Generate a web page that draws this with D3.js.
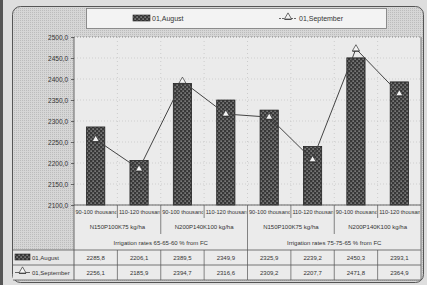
<!DOCTYPE html>
<html>
<head>
<meta charset="utf-8">
<script src="https://cdn.jsdelivr.net/npm/d3@7"></script>
<style>
  body { margin: 0; background: #dedede; }
  svg { display: block; font-family: "Liberation Sans", Arial, sans-serif; }
</style>
</head>
<body>
<div id="chart"></div>
<script>
// chart data
const categories = ["90-100 thousand", "110-120 thousand", "90-100 thousand", "110-120 thousand",
                    "90-100 thousand", "110-120 thousand", "90-100 thousand", "110-120 thousand"];
const fertGroups = ["N150P100K75 kg/ha", "N200P140K100 kg/ha", "N150P100K75 kg/ha", "N200P140K100 kg/ha"];
const irrigGroups = ["Irrigation rates 65-65-60 % from FC", "Irrigation rates 75-75-65 % from FC"];
const august = [2285.8, 2206.1, 2389.5, 2349.9, 2325.9, 2239.2, 2450.3, 2393.1];
const september = [2256.1, 2185.9, 2394.7, 2316.6, 2309.2, 2207.7, 2471.8, 2364.9];
const seriesNames = ["01,August", "01,September"];
const yTicks = [2100, 2150, 2200, 2250, 2300, 2350, 2400, 2450, 2500];

const w = 427, h = 285;
const plot = {left: 74, right: 421, top: 37, bottom: 205};
const fmt = v => d3.format(".1f")(v).replace(".", ",");

const svg = d3.select("#chart").append("svg")
    .attr("width", w)
    .attr("height", h);

const defs = svg.append("defs");
// grey halftone for the frame
const bg = defs.append("pattern").attr("id", "frameFill")
    .attr("width", 2).attr("height", 2).attr("patternUnits", "userSpaceOnUse");
bg.append("rect").attr("width", 2).attr("height", 2).attr("fill", "#d6d6d6");
bg.append("rect").attr("width", 1).attr("height", 1).attr("fill", "#bcbcbc");
// bar hatch
const hatch = defs.append("pattern").attr("id", "barFill")
    .attr("width", 4).attr("height", 4).attr("patternUnits", "userSpaceOnUse");
hatch.append("rect").attr("width", 4).attr("height", 4).attr("fill", "#383838");
hatch.append("rect").attr("x", 0.5).attr("y", 0.5).attr("width", 1.2).attr("height", 1.2).attr("fill", "#b8b8b8");
hatch.append("rect").attr("x", 2.5).attr("y", 2.5).attr("width", 1.2).attr("height", 1.2).attr("fill", "#b8b8b8");

// dark edge of the scan
svg.append("rect").attr("x", 0).attr("y", 0).attr("width", 3).attr("height", h).attr("fill", "#555");

// outer frame
svg.append("rect")
    .attr("x", 12.5).attr("y", 6.5)
    .attr("width", 411).attr("height", 276)
    .attr("rx", 8)
    .attr("fill", "url(#frameFill)")
    .attr("stroke", "#555").attr("stroke-width", 1);

// plot + table light area
svg.append("rect")
    .attr("x", plot.left).attr("y", plot.top)
    .attr("width", plot.right - plot.left).attr("height", 280 - plot.top)
    .attr("fill", "#ebebeb");
svg.append("rect")
    .attr("x", 13).attr("y", 250)
    .attr("width", plot.left - 13).attr("height", 30)
    .attr("fill", "#e6e6e6");

// scales
const xScale = d3.scaleBand()
    .domain(d3.range(categories.length))
    .range([plot.left, plot.right])
    .padding(0);
const barW = xScale.bandwidth() * 0.42;
const yScale = d3.scaleLinear()
    .domain([2100, 2500])
    .range([plot.bottom, plot.top]);

// gridlines
const g = svg.append("g");
g.selectAll(".hgrid").data(yTicks).enter().append("line")
    .attr("x1", plot.left).attr("x2", plot.right)
    .attr("y1", d => yScale(d)).attr("y2", d => yScale(d))
    .attr("stroke", d => d == 2500 ? "#777" : "#c8c8c8")
    .attr("stroke-dasharray", "1,2")
    .attr("stroke-width", 0.8);
g.selectAll(".vgrid").data(d3.range(1, categories.length)).enter().append("line")
    .attr("x1", d => xScale(d)).attr("x2", d => xScale(d))
    .attr("y1", plot.top).attr("y2", plot.bottom)
    .attr("stroke", "#c4c4c4")
    .attr("stroke-dasharray", "1,3")
    .attr("stroke-width", 0.8);

// y axis
const yAxis = d3.axisLeft(yScale)
    .tickValues(yTicks)
    .tickSize(3)
    .tickFormat(fmt);
const yAxisG = svg.append("g")
    .attr("transform", `translate(${plot.left},0)`)
    .call(yAxis);
yAxisG.select(".domain").remove();
yAxisG.selectAll("line").attr("stroke", "#666");
yAxisG.selectAll("text").attr("font-size", "6.5px").attr("fill", "#333").attr("font-family", "Liberation Sans, Arial, sans-serif");

// bars
svg.selectAll(".bar").data(august).enter().append("rect")
    .attr("class", "bar")
    .attr("x", (d, i) => xScale(i) + xScale.bandwidth() / 2 - barW / 2)
    .attr("y", d => yScale(d))
    .attr("width", barW)
    .attr("height", d => plot.bottom - yScale(d))
    .attr("fill", "url(#barFill)")
    .attr("stroke", "#222").attr("stroke-width", 0.8);

// september line
const lineGenerator = d3.line()
    .x((d, i) => xScale(i) + xScale.bandwidth() / 2)
    .y(d => yScale(d));
svg.append("path")
    .attr("d", lineGenerator(september))
    .attr("fill", "none")
    .attr("stroke", "#444")
    .attr("stroke-width", 1);

const tri = d3.symbol().type(d3.symbolTriangle).size(22);
function marker(sel) {
    sel.append("path").attr("d", tri()).attr("fill", "#f4f4f4").attr("stroke", "#333").attr("stroke-width", 0.7);
    sel.append("line").attr("x1", -3.5).attr("x2", 3.5).attr("y1", 2.5).attr("y2", 2.5)
        .attr("stroke", "#333").attr("stroke-width", 0.8);
}
svg.selectAll(".dot").data(september).enter().append("g")
    .attr("class", "dot")
    .attr("transform", (d, i) => `translate(${xScale(i) + xScale.bandwidth() / 2},${yScale(d)})`)
    .call(marker);

// plot borders
svg.append("line").attr("x1", plot.left).attr("x2", plot.left).attr("y1", plot.top).attr("y2", 280)
    .attr("stroke", "#444").attr("stroke-width", 0.8);
svg.append("line").attr("x1", plot.right).attr("x2", plot.right).attr("y1", plot.top).attr("y2", 280)
    .attr("stroke", "#555").attr("stroke-width", 0.8);
svg.append("line").attr("x1", plot.left).attr("x2", plot.right).attr("y1", plot.bottom).attr("y2", plot.bottom)
    .attr("stroke", "#444").attr("stroke-width", 0.8);

// table: category labels row
const t = svg.append("g").attr("fill", "#333").attr("font-size", "5.6px");
categories.forEach((c, i) => {
    defs.append("clipPath").attr("id", "cc" + i)
        .append("rect").attr("x", xScale(i) + 1).attr("y", plot.bottom)
        .attr("width", xScale.bandwidth() - 2).attr("height", 13);
});
t.selectAll(".cat").data(categories).enter().append("text")
    .attr("x", (d, i) => xScale(i) + 1.5)
    .attr("y", plot.bottom + 9)
    .attr("clip-path", (d, i) => `url(#cc${i})`)
    .text(d => d);
t.selectAll(".catsep").data(d3.range(1, categories.length)).enter().append("line")
    .attr("x1", d => xScale(d)).attr("x2", d => xScale(d))
    .attr("y1", plot.bottom).attr("y2", d => d % 4 == 0 ? 250 : d % 2 == 0 ? 234 : 218)
    .attr("stroke", "#555").attr("stroke-width", 0.7);

// fertiliser groups
t.selectAll(".fert").data(fertGroups).enter().append("text")
    .attr("x", (d, i) => xScale(i * 2) + xScale.bandwidth())
    .attr("y", 229)
    .attr("text-anchor", "middle")
    .attr("font-size", "6px")
    .text(d => d);
// irrigation groups
t.selectAll(".irr").data(irrigGroups).enter().append("text")
    .attr("x", (d, i) => xScale(i * 4) + xScale.bandwidth() * 2)
    .attr("y", 245)
    .attr("text-anchor", "middle")
    .attr("font-size", "6px")
    .text(d => d);

// data rows
[250, 265, 280].forEach(y => {
    t.append("line").attr("x1", 13).attr("x2", plot.right).attr("y1", y).attr("y2", y)
        .attr("stroke", "#555").attr("stroke-width", 0.8);
});
t.selectAll(".rowsep").data(d3.range(1, categories.length)).enter().append("line")
    .attr("x1", d => xScale(d)).attr("x2", d => xScale(d))
    .attr("y1", 250).attr("y2", 280)
    .attr("stroke", "#555").attr("stroke-width", 0.7);
[august, september].forEach((vals, r) => {
    t.selectAll(".v" + r).data(vals).enter().append("text")
        .attr("x", (d, i) => xScale(i) + xScale.bandwidth() / 2)
        .attr("y", 260 + r * 15)
        .attr("text-anchor", "middle")
        .attr("font-size", "6px")
        .text(d => fmt(d));
});
// row keys
t.append("rect").attr("x", 15).attr("y", 254).attr("width", 15).attr("height", 6)
    .attr("fill", "url(#barFill)").attr("stroke", "#222").attr("stroke-width", 0.6);
t.append("text").attr("x", 32).attr("y", 260).attr("font-size", "6px").text(seriesNames[0]);
t.append("line").attr("x1", 15).attr("x2", 30).attr("y1", 272.5).attr("y2", 272.5)
    .attr("stroke", "#444").attr("stroke-width", 0.8);
t.append("g").attr("transform", "translate(22.5,271)").call(marker);
t.append("text").attr("x", 32).attr("y", 275).attr("font-size", "6px").text(seriesNames[1]);

// legend
const leg = svg.append("g");
leg.append("rect").attr("x", 86.5).attr("y", 8.5).attr("width", 300).attr("height", 20)
    .attr("fill", "#f3f3f3").attr("stroke", "#777").attr("stroke-width", 0.8);
leg.append("rect").attr("x", 133).attr("y", 15).attr("width", 17).attr("height", 6)
    .attr("fill", "url(#barFill)").attr("stroke", "#222").attr("stroke-width", 0.6);
leg.append("text").attr("x", 152).attr("y", 21).attr("font-size", "7px").attr("fill", "#333").text(seriesNames[0]);
leg.append("line").attr("x1", 279).attr("x2", 297).attr("y1", 18.5).attr("y2", 18.5)
    .attr("stroke", "#444").attr("stroke-width", 0.8).attr("stroke-dasharray", "2,1");
leg.append("g").attr("transform", "translate(288,17)").call(marker);
leg.append("text").attr("x", 299).attr("y", 21).attr("font-size", "7px").attr("fill", "#333").text(seriesNames[1]);
</script>
</body>
</html>
